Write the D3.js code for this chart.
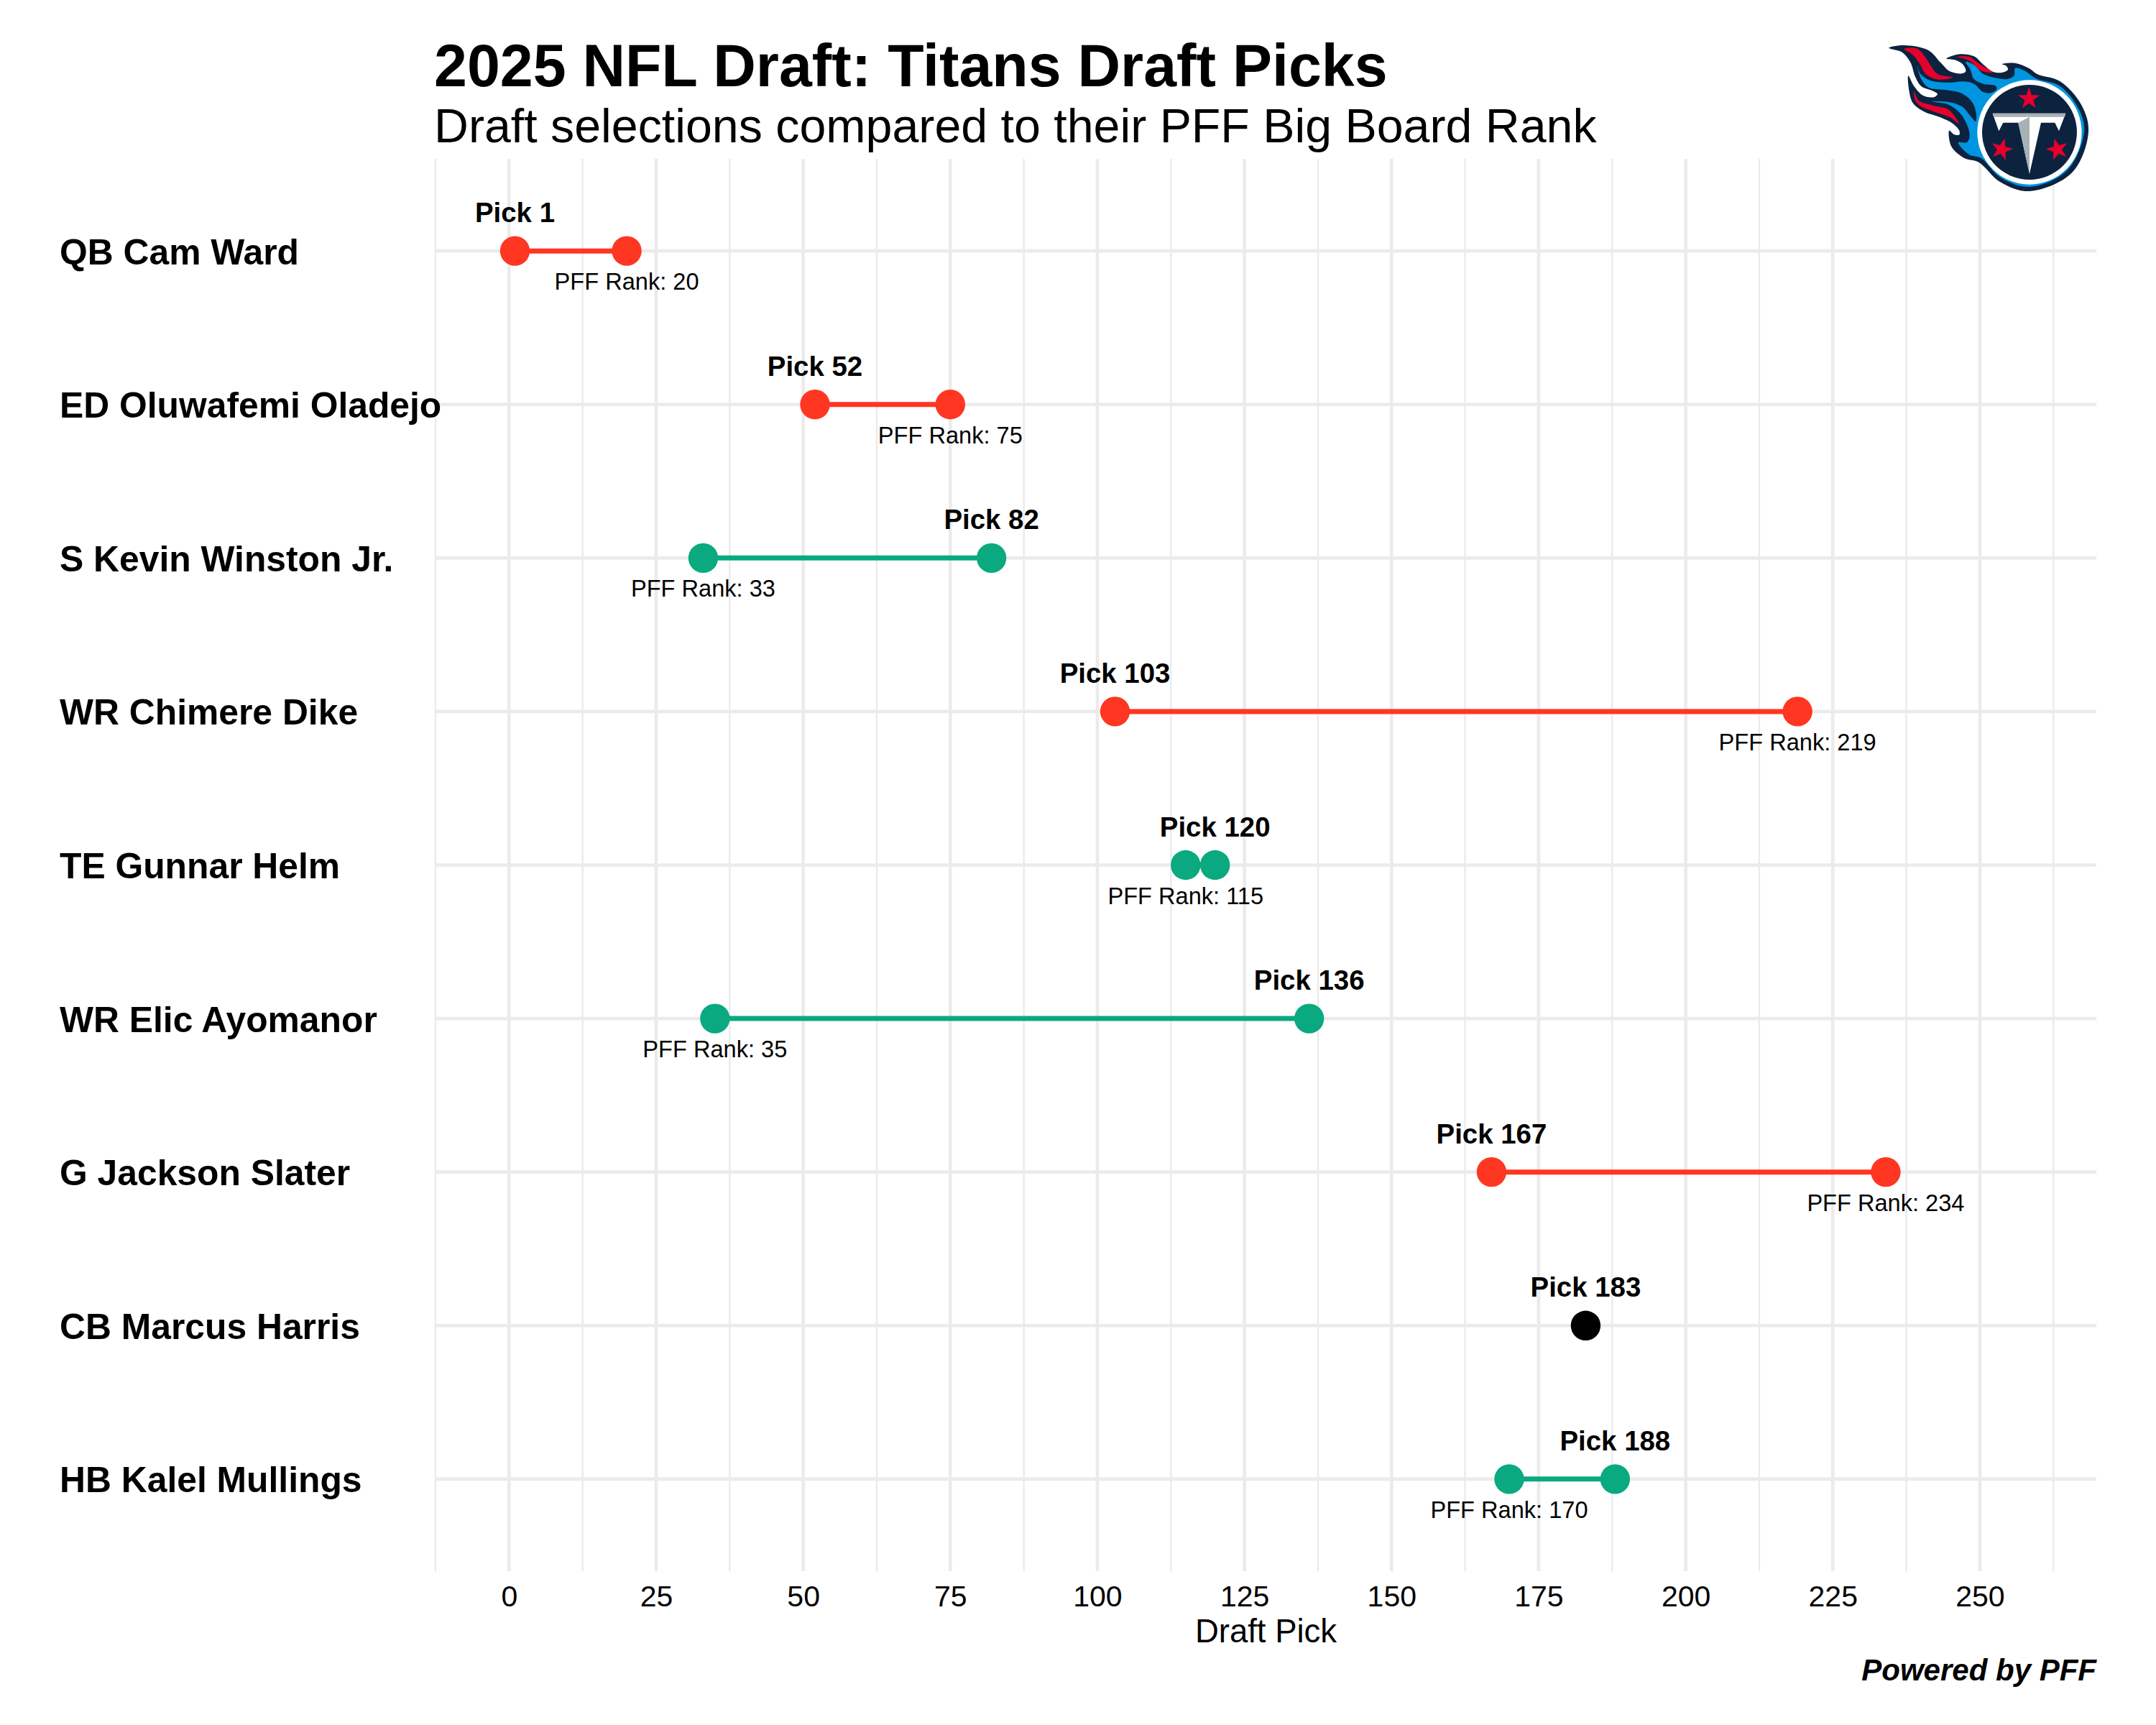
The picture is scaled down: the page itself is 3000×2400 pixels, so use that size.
<!DOCTYPE html>
<html>
<head>
<meta charset="utf-8">
<script src="https://d3js.org/d3.v7.min.js"></script>
<style>
  body { margin: 0; background: #fff; }
  text { font-family: "Liberation Sans", Arial, sans-serif; fill: #000; }
</style>
</head>
<body>
<svg id="chart" width="3000" height="2400"></svg>
<script>
// chart data
var players = ["QB Cam Ward", "ED Oluwafemi Oladejo", "S Kevin Winston Jr.", "WR Chimere Dike", "TE Gunnar Helm",
               "WR Elic Ayomanor", "G Jackson Slater", "CB Marcus Harris", "HB Kalel Mullings"];
var picks = [1, 52, 82, 103, 120, 136, 167, 183, 188];
var ranks = [20, 75, 33, 219, 115, 35, 234, null, 170];
var xTicks = [0, 25, 50, 75, 100, 125, 150, 175, 200, 225, 250];
var xMinorTicks = [-12.5, 12.5, 37.5, 62.5, 87.5, 112.5, 137.5, 162.5, 187.5, 212.5, 237.5, 262.5];

var svg = d3.select("#chart");

var left = 606, right = 2917, top_ = 221, bottom = 2186;
var x = d3.scaleLinear().domain([-12.5, 269.8]).range([left, right]);
var y = d3.scalePoint().domain(players).range([top_, bottom]).padding(0.6);

var RED = "#ff3621", GREEN = "#0aa97f", GRID = "#ebebeb";

// red = picked earlier than rank, green = later, black = no rank
function rowColor(i) {
    if (ranks[i] === null) return "#000";
    return picks[i] < ranks[i] ? RED : GREEN;
}

// grid
svg.selectAll(".minor").data(xMinorTicks).enter().append("line")
    .attr("x1", d => x(d)).attr("x2", d => x(d)).attr("y1", top_).attr("y2", bottom)
    .attr("stroke", GRID).attr("stroke-width", 2.4);
svg.selectAll(".major").data(xTicks).enter().append("line")
    .attr("x1", d => x(d)).attr("x2", d => x(d)).attr("y1", top_).attr("y2", bottom)
    .attr("stroke", GRID).attr("stroke-width", 4.6);
svg.selectAll(".hgrid").data(players).enter().append("line")
    .attr("x1", left).attr("x2", right).attr("y1", d => y(d)).attr("y2", d => y(d))
    .attr("stroke", GRID).attr("stroke-width", 4.6);

// x axis
var axis = svg.append("g").attr("transform", "translate(0," + bottom + ")")
    .call(d3.axisBottom(x).tickValues(xTicks).tickSize(0).tickPadding(20));
axis.select(".domain").remove();
axis.selectAll("text").style("font-size", "41px").style("font-family", '"Liberation Sans"').attr("fill", "#000");

svg.append("text").attr("x", (left + right) / 2).attr("y", 2285).attr("text-anchor", "middle")
    .style("font-size", "45.5px").text("Draft Pick");

// player names
svg.selectAll(".name").data(players).enter().append("text")
    .attr("x", 83).attr("y", d => y(d) + 18.5)
    .style("font-size", "49.8px").style("font-weight", 700).text(d => d);

// connector lines
players.forEach(function(p, i) {
    if (ranks[i] === null) return;
    svg.append("line")
        .attr("x1", x(picks[i])).attr("x2", x(ranks[i]))
        .attr("y1", y(p)).attr("y2", y(p))
        .attr("stroke", rowColor(i)).attr("stroke-width", 7);
});

// points
players.forEach(function(p, i) {
    svg.append("circle").attr("cx", x(picks[i])).attr("cy", y(p)).attr("r", 20.7).attr("fill", rowColor(i));
    if (ranks[i] !== null) {
        svg.append("circle").attr("cx", x(ranks[i])).attr("cy", y(p)).attr("r", 20.7).attr("fill", rowColor(i));
        svg.append("text").attr("x", x(ranks[i])).attr("y", y(p) + 54).attr("text-anchor", "middle")
            .style("font-size", "32.6px").text("PFF Rank: " + ranks[i]);
    }
    svg.append("text").attr("x", x(picks[i])).attr("y", y(p) - 40).attr("text-anchor", "middle")
        .style("font-size", "38.4px").style("font-weight", 700).text("Pick " + picks[i]);
});

// titles
svg.append("text").attr("x", 604).attr("y", 120).style("font-size", "82.5px").style("font-weight", 700)
    .text("2025 NFL Draft: Titans Draft Picks");
svg.append("text").attr("x", 604).attr("y", 198).style("font-size", "66.3px")
    .text("Draft selections compared to their PFF Big Board Rank");
svg.append("text").attr("x", 2917).attr("y", 2338).attr("text-anchor", "end")
    .style("font-size", "42px").style("font-weight", 700).style("font-style", "italic").text("Powered by PFF");

// team logo
var NAVY = "#0c2340", BLUE = "#0095e0", CRIMSON = "#e6002d", STEEL = "#a8b1b5";
var logo = svg.append("g").attr("transform", "translate(2550,20) scale(0.3333)");
var blob = d3.line().curve(d3.curveCatmullRomClosed.alpha(0.5));

var flameNavy = [[235,140],[300,129],[400,150],[450,200],[490,238],[540,247],[556,238],[545,210],[510,190],[475,185],
    [530,166],[590,175],[630,210],[670,240],[710,242],[732,230],[725,215],[708,208],[760,203],[820,225],[855,250],
    [950,280],[1040,380],[1068,492],[1000,660],[822,738],[700,700],[610,617],[550,600],[495,550],[487,485],[505,500],
    [528,503],[530,488],[505,458],[450,430],[380,405],[335,370],[318,310],[316,256],[340,300],[380,340],[425,345],
    [438,332],[420,320],[370,300],[345,260],[325,200],[290,158]];
var flameBlue = [[352,212],[368,250],[405,275],[480,285],[550,280],[590,290],[630,325],[660,328],[685,312],[680,298],
    [630,290],[590,270],[575,230],[555,198],[590,210],[630,250],[680,265],[730,270],[758,255],[762,225],[800,235],
    [850,268],[950,300],[1030,400],[1050,492],[980,650],[822,720],[700,680],[620,600],[570,585],[525,535],[560,535],
    [572,510],[565,470],[530,410],[480,375],[415,365],[480,365],[540,385],[580,430],[597,447],[600,420],[585,370],
    [540,330],[470,315],[400,305],[370,270]];
var flameRed = [
    [[298,145],[350,142],[385,175],[410,215],[440,250],[500,263],[440,272],[390,250],[360,200],[330,165]],
    [[515,178],[570,177],[610,205],[670,243],[620,235],[580,200],[550,185]],
    [[340,322],[360,360],[420,380],[480,395],[510,425],[528,457],[490,430],[420,405],[370,385],[345,360]]
];

logo.append("path").attr("d", blob(flameNavy)).attr("fill", NAVY);
logo.append("path").attr("d", blob(flameBlue)).attr("fill", BLUE);
flameRed.forEach(f => logo.append("path").attr("d", blob(f)).attr("fill", CRIMSON));
logo.append("circle").attr("cx", 822).attr("cy", 492).attr("r", 218).attr("fill", "#fff");
logo.append("circle").attr("cx", 822).attr("cy", 492).attr("r", 198).attr("fill", NAVY);

var star = d3.range(10).map(i => {
    var r = i % 2 ? 19 : 48, a = i * Math.PI / 5;
    return [r * Math.sin(a), -r * Math.cos(a)];
});
[[820, 352, 0], [706, 564, 15], [938, 564, -15]].forEach(function(s) {
    logo.append("polygon").attr("points", star.join(" ")).attr("fill", CRIMSON)
        .attr("transform", "translate(" + s[0] + "," + s[1] + ") rotate(" + s[2] + ")");
});

logo.append("polygon").attr("fill", "#fff")
    .attr("points", "668,413 973,413 945,487 928,452 870,452 822,665 775,452 712,452 694,487");
logo.append("polygon").attr("fill", STEEL).attr("points", "668,413 973,413 969,428 672,428");
logo.append("polygon").attr("fill", STEEL).attr("points", "775,452 822,428 822,665");
</script>
</body>
</html>
